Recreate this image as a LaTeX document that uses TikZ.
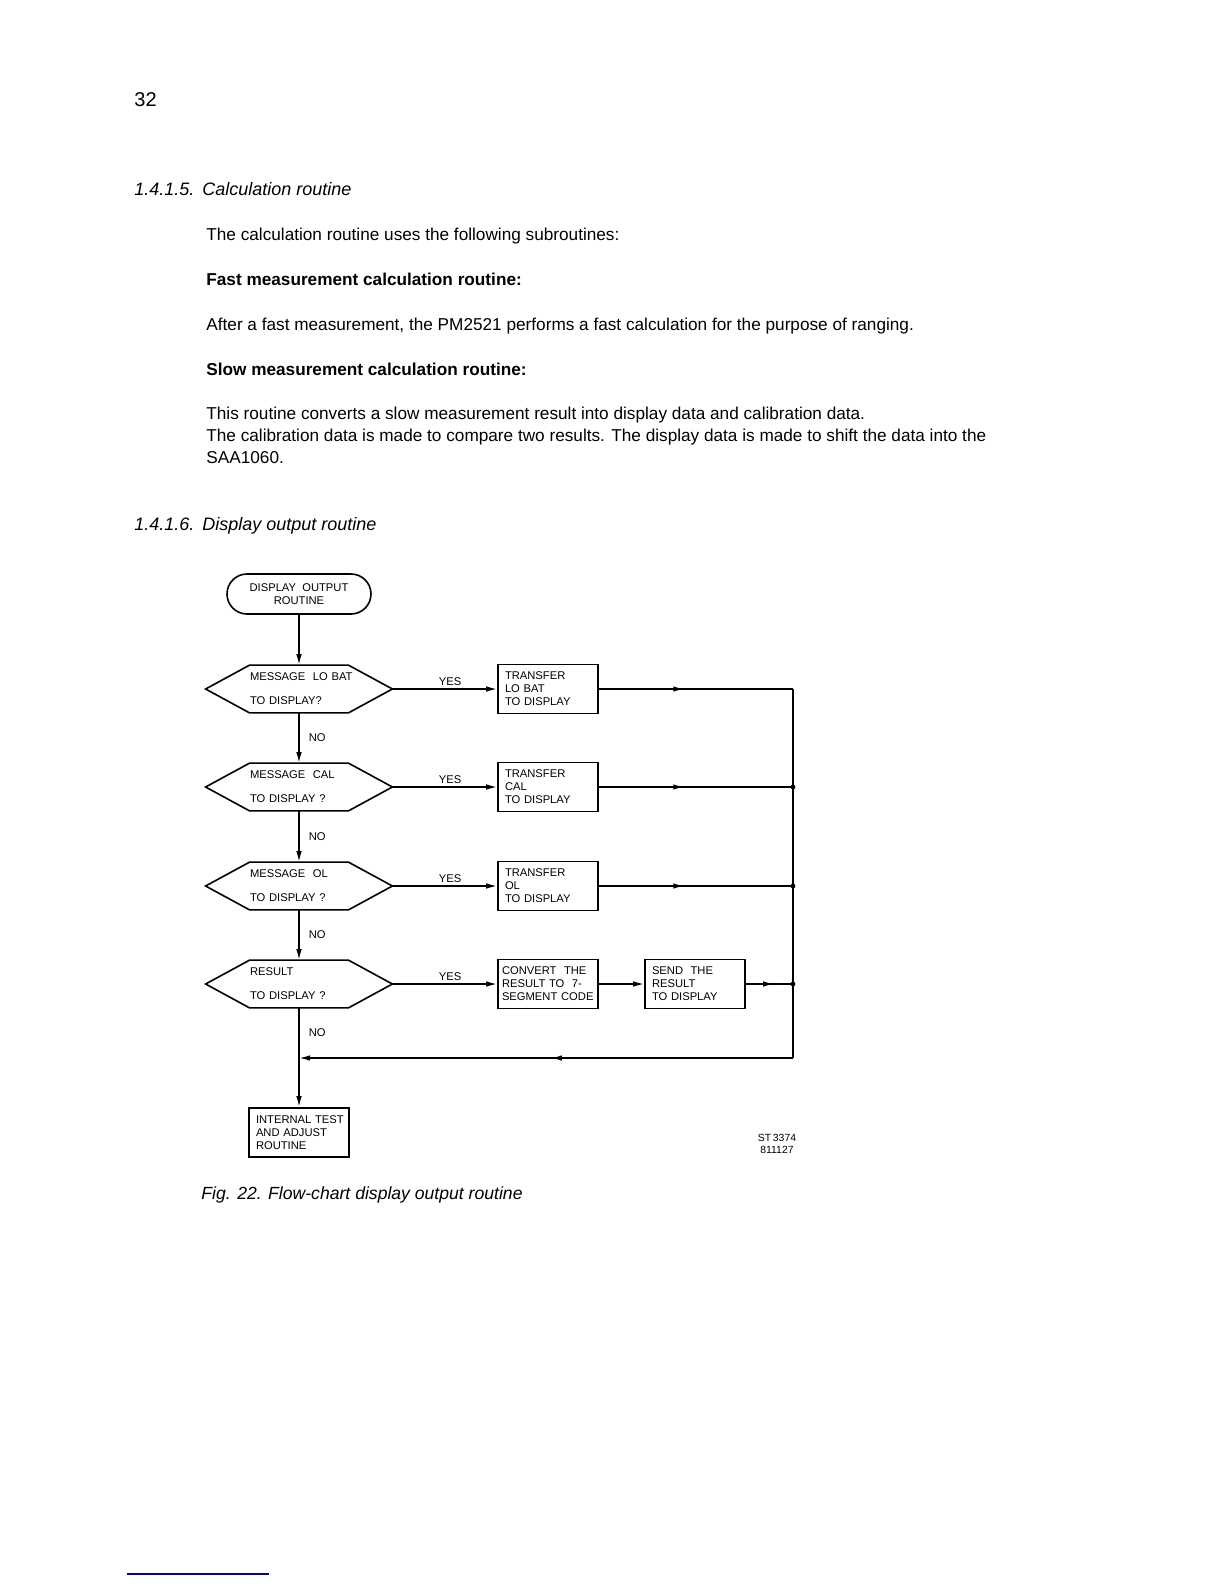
\documentclass[tikz,border=0pt]{standalone}
\usepackage{fontspec}
\setmainfont{Liberation Sans}
\usetikzlibrary{shapes.misc,arrows.meta,decorations.markings}

\tikzset{
  body/.style={anchor=base west, inner sep=0pt, font=\fontsize{8.6}{11}\selectfont},
  head/.style={body, font=\fontsize{9}{11}\selectfont\itshape},
  chart/.style={font=\fontsize{5.6}{6.5}\selectfont},
  term/.style={chart, draw, rounded rectangle, line width=0.8pt,
    minimum width=74pt, minimum height=20pt, align=center, inner sep=1pt},
  query/.style={chart, rectangle, minimum width=49pt, minimum height=23.5pt,
    text width=49pt, inner sep=0pt, align=left, font=\fontsize{5.6}{12}\selectfont},
  job/.style={chart, draw, rectangle, line width=0.8pt, minimum width=50pt,
    minimum height=24.5pt, text width=43pt, inner xsep=3.5pt, inner ysep=0pt, align=left},
  lbl/.style={font=\fontsize{5.6}{6}\selectfont, inner sep=1.5pt},
  wire/.style={line width=0.8pt},
  flow/.style={wire, -{Latex[length=5.5pt,width=2.8pt]}},
  midarrow/.style={postaction={decorate}, decoration={markings,
    mark=at position #1 with {\arrow{Latex[length=5.5pt,width=2.8pt]}}}},
}

\begin{document}
\begin{tikzpicture}[x=0.5pt, y=-0.5pt]
  \fill[white] (0,0) rectangle (1224,1584);
  \useasboundingbox (0,0) rectangle (1224,1584);

  % Page text
  \node[body, font=\fontsize{10}{11}\selectfont] (page) at (134,106) {32};
  \node[head] (sec5) at (134,195) {1.4.1.5.};
  \node[head] (sec5t) at (202,195) {Calculation routine};
  \node[body] (intro) at (206,240) {The calculation routine uses the following subroutines:};
  \node[body, font=\fontsize{8.6}{11}\selectfont\bfseries] (fast) at (206,285) {Fast measurement calculation routine:};
  \node[body] (fastt) at (206,330) {After a fast measurement, the PM2521 performs a fast calculation for the purpose of ranging.};
  \node[body, font=\fontsize{8.6}{11}\selectfont\bfseries] (slow) at (206,375) {Slow measurement calculation routine:};
  \node[body] (slowa) at (206,419) {This routine converts a slow measurement result into display data and calibration data.};
  \node[body] (slowb) at (206,441) {The calibration data is made to compare two results. The display data is made to shift the data into the};
  \node[body] (slowc) at (206,463) {SAA1060.};
  \node[head] (sec6) at (134,530) {1.4.1.6.};
  \node[head] (sec6t) at (202,530) {Display output routine};

  % Flow chart
  \node[term] (start) at (299,594) {DISPLAY\ \ OUTPUT\\ROUTINE};
  \node[query] (q1) at (299,689) {\mbox{MESSAGE\ \ LO BAT}\\TO DISPLAY?};
  \node[query] (q2) at (299,787) {\mbox{MESSAGE\ \ CAL}\\TO DISPLAY ?};
  \node[query] (q3) at (299,886) {\mbox{MESSAGE\ \ OL}\\TO DISPLAY ?};
  \node[query] (q4) at (299,984) {RESULT\\TO DISPLAY ?};
  \foreach \q in {q1,q2,q3,q4} {
    \draw[wire] (\q.north west) -- (\q.north east)
      -- ([xshift=22pt]\q.east) coordinate (\q-tip) -- (\q.south east)
      -- (\q.south west) -- ([xshift=-22pt]\q.west) -- cycle;
  }

  \node[job] (t1) at (548,689) {TRANSFER\\LO BAT\\TO DISPLAY};
  \node[job] (t2) at (548,787) {TRANSFER\\CAL\\TO DISPLAY};
  \node[job] (t3) at (548,886) {TRANSFER\\OL\\TO DISPLAY};
  \node[job, inner xsep=2pt, text width=46pt] (conv) at (548,984) {CONVERT\ \ THE\\RESULT TO\ \ 7-\\SEGMENT CODE};
  \node[job] (send) at (695,984) {SEND\ \ THE\\RESULT\\TO DISPLAY};
  \node[job] (test) at (299,1132.5) {\mbox{INTERNAL TEST}\\AND ADJUST\\ROUTINE};

  % Bus and return line
  \coordinate (bus) at (793,1058);
  \coordinate (b1) at (t1.east -| bus);
  \coordinate (b2) at (t2.east -| bus);
  \coordinate (b3) at (t3.east -| bus);
  \coordinate (b4) at (send.east -| bus);
  \coordinate (join) at (q4.south |- bus);

  % Main column
  \draw[flow] (start) -- (q1);
  \draw[flow] (q1) -- node[lbl, right, xshift=3pt] {NO} (q2);
  \draw[flow] (q2) -- node[lbl, right, xshift=3pt] {NO} (q3);
  \draw[flow] (q3) -- node[lbl, right, xshift=3pt] {NO} (q4);
  \draw[flow] (q4) -- node[lbl, right, xshift=3pt, pos=0.25] {NO} (test);

  % Yes branches
  \draw[flow] (q1-tip) -- node[lbl, above, pos=0.55] {YES} (t1);
  \draw[flow] (q2-tip) -- node[lbl, above, pos=0.55] {YES} (t2);
  \draw[flow] (q3-tip) -- node[lbl, above, pos=0.55] {YES} (t3);
  \draw[flow] (q4-tip) -- node[lbl, above, pos=0.55] {YES} (conv);
  \draw[flow] (conv) -- (send);

  \draw[wire, midarrow=0.44] (t1) -- (b1);
  \draw[wire, midarrow=0.44] (t2) -- (b2);
  \draw[wire, midarrow=0.44] (t3) -- (b3);
  \draw[wire, midarrow=0.6] (send) -- (b4);
  \draw[wire] (b1) -- (bus);
  \draw[flow, midarrow=0.49] (bus) -- (join);
  \foreach \b in {b2,b3,b4} \fill (\b) circle (1.2pt);

  % Caption
  \node[body, font=\fontsize{5.2}{6}\selectfont, anchor=base] (code1) at (777,1141) {ST\,3374};
  \node[body, font=\fontsize{5.2}{6}\selectfont, anchor=base] (code2) at (777,1153) {811127};
  \node[head, font=\fontsize{8.8}{11}\selectfont\itshape] (caption) at (201,1199) {Fig. 22. Flow-chart display output routine};

  \draw[line width=1pt, blue!60!black] (127,1574) -- (269,1574);
\end{tikzpicture}
\end{document}
